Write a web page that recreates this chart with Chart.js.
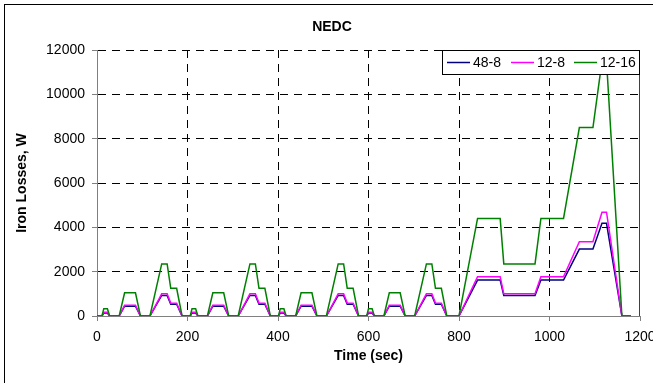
<!DOCTYPE html>
<html lang="en">
<head>
    <meta charset="UTF-8">
    <title>NEDC Iron Losses</title>
    <script src="https://cdn.jsdelivr.net/npm/chart.js"></script>
    <style>
        body { margin: 0; background: #fff; }
        .chart-box { width: 653px; height: 383px; }
    </style>
</head>
<body>
    <div class="chart-box">
        <canvas id="chartNedc" width="653" height="383"></canvas>
    </div>

    <script>
        // NEDC time breakpoints (s): four ECE-15 cycles then the EUDC part
        const times = [
            0, 11, 15, 23, 28, 49, 61, 85, 96, 117, 143, 155, 163, 176, 188,
            195, 206, 210, 218, 223, 244, 256, 280, 291, 312, 338, 350, 358, 371, 383,
            390, 401, 405, 413, 418, 439, 451, 475, 486, 507, 533, 545, 553, 566, 578,
            585, 596, 600, 608, 613, 634, 646, 670, 681, 702, 728, 740, 748, 761, 773,
            780, 800, 841, 891, 899, 968, 981, 1031, 1066, 1096, 1116, 1126, 1160, 1180
        ];

        // iron losses (W) for each machine at the breakpoints above
        const loss48_8 = [
            0, 0, 130, 130, 0, 0, 440, 440, 0, 0, 930, 930, 530, 530, 0,
            0, 0, 130, 130, 0, 0, 440, 440, 0, 0, 930, 930, 530, 530, 0,
            0, 0, 130, 130, 0, 0, 440, 440, 0, 0, 930, 930, 530, 530, 0,
            0, 0, 130, 130, 0, 0, 440, 440, 0, 0, 930, 930, 530, 530, 0,
            0, 0, 1620, 1620, 930, 930, 1620, 1620, 3020, 3020, 4180, 4180, 0, 0
        ];
        const loss12_8 = [
            0, 0, 170, 170, 0, 0, 490, 490, 0, 0, 1000, 1000, 580, 580, 0,
            0, 0, 170, 170, 0, 0, 490, 490, 0, 0, 1000, 1000, 580, 580, 0,
            0, 0, 170, 170, 0, 0, 490, 490, 0, 0, 1000, 1000, 580, 580, 0,
            0, 0, 170, 170, 0, 0, 490, 490, 0, 0, 1000, 1000, 580, 580, 0,
            0, 0, 1770, 1770, 1000, 1000, 1770, 1770, 3350, 3350, 4680, 4680, 0, 0
        ];
        const loss12_16 = [
            0, 0, 330, 330, 0, 0, 1050, 1050, 0, 0, 2350, 2350, 1250, 1250, 0,
            0, 0, 330, 330, 0, 0, 1050, 1050, 0, 0, 2350, 2350, 1250, 1250, 0,
            0, 0, 330, 330, 0, 0, 1050, 1050, 0, 0, 2350, 2350, 1250, 1250, 0,
            0, 0, 330, 330, 0, 0, 1050, 1050, 0, 0, 2350, 2350, 1250, 1250, 0,
            0, 0, 4400, 4400, 2350, 2350, 4400, 4400, 8500, 8500, 11500, 11500, 0, 0
        ];

        const seriesNames = ["48-8", "12-8", "12-16"];
        const xMax = 1200, xStep = 200;
        const yMax = 12000, yStep = 2000;

        const FONT = '"Liberation Sans", Arial, sans-serif';
        Chart.defaults.font.family = FONT;
        Chart.defaults.font.size = 14;
        Chart.defaults.color = "#000";

        function points(values) {
            return times.map((t, i) => ({ x: t, y: values[i] }));
        }

        // outer frame, right edge of the plot, title and boxed legend
        const decorations = {
            id: "decorations",
            afterDraw(chart) {
                const ctx = chart.ctx;
                const a = chart.chartArea;
                ctx.save();

                ctx.strokeStyle = "#000";
                ctx.lineWidth = 1;
                ctx.strokeRect(4.5, 4.5, 700, 400);

                ctx.strokeStyle = "#404040";
                ctx.beginPath();
                ctx.moveTo(Math.round(a.right) - 0.5, a.top);
                ctx.lineTo(Math.round(a.right) - 0.5, a.bottom);
                ctx.stroke();

                ctx.fillStyle = "#000";
                ctx.font = "bold 14px " + FONT;
                ctx.textAlign = "center";
                ctx.textBaseline = "middle";
                ctx.fillText("NEDC", 332, 27);

                // legend box overlapping the top right of the plot
                const lx = 442.5, ly = 50.5, lw = 197, lh = 24;
                ctx.fillStyle = "#fff";
                ctx.fillRect(lx, ly, lw, lh);
                ctx.strokeStyle = "#000";
                ctx.strokeRect(lx, ly, lw, lh);

                const starts = [447, 511, 574];
                ctx.font = "14px " + FONT;
                ctx.textAlign = "left";
                chart.data.datasets.forEach((ds, i) => {
                    const x = starts[i];
                    const y = ly + lh / 2;
                    ctx.strokeStyle = ds.borderColor;
                    ctx.lineWidth = 1.5;
                    ctx.beginPath();
                    ctx.moveTo(x, y);
                    ctx.lineTo(x + 23, y);
                    ctx.stroke();
                    ctx.fillStyle = "#000";
                    ctx.fillText(ds.label, x + 26, y + 0.5);
                });
                ctx.restore();
            }
        };

        function gridColor(c) {
            const v = c.tick ? c.tick.value : null;
            return (v === 0 || v === xMax) ? "rgba(0,0,0,0)" : "#000";
        }

        const plainNumber = v => String(v);

        new Chart(document.getElementById("chartNedc").getContext("2d"), {
            type: "line",
            data: {
                datasets: [
                    { label: seriesNames[0], data: points(loss48_8), borderColor: "#000080", order: 2 },
                    { label: seriesNames[1], data: points(loss12_8), borderColor: "#FF00FF", order: 1 },
                    { label: seriesNames[2], data: points(loss12_16), borderColor: "#008000", order: 0 }
                ]
            },
            options: {
                responsive: false,
                animation: false,
                layout: { padding: { top: 50, right: 13, left: 0, bottom: 0 } },
                elements: {
                    line: { borderWidth: 1.5, tension: 0 },
                    point: { radius: 0, hoverRadius: 0 }
                },
                plugins: {
                    legend: { display: false },
                    tooltip: { enabled: false }
                },
                scales: {
                    x: {
                        type: "linear",
                        min: 0,
                        max: xMax,
                        ticks: { stepSize: xStep, padding: 8, maxRotation: 0, callback: plainNumber },
                        grid: { color: gridColor, tickLength: 5, tickColor: "#808080", tickBorderDash: [] },
                        border: { color: "#808080", width: 1, dash: [8, 6] },
                        title: { display: true, text: "Time (sec)", font: { weight: "bold", size: 14 }, padding: { bottom: 18 } },
                        afterFit(s) { s.height = 67; s.paddingLeft = 0; s.paddingRight = 0; }
                    },
                    y: {
                        min: 0,
                        max: yMax,
                        ticks: { stepSize: yStep, padding: 7, callback: plainNumber },
                        grid: { color: gridColor, tickLength: 5, tickColor: "#808080", tickBorderDash: [] },
                        border: { color: "#808080", width: 1, dash: [8, 6] },
                        title: { display: true, text: "Iron Losses, W", font: { weight: "bold", size: 14 }, padding: { top: 14 } },
                        afterFit(s) { s.width = 97; s.paddingTop = 0; s.paddingBottom = 0; }
                    }
                }
            },
            plugins: [decorations]
        });
    </script>
</body>
</html>
